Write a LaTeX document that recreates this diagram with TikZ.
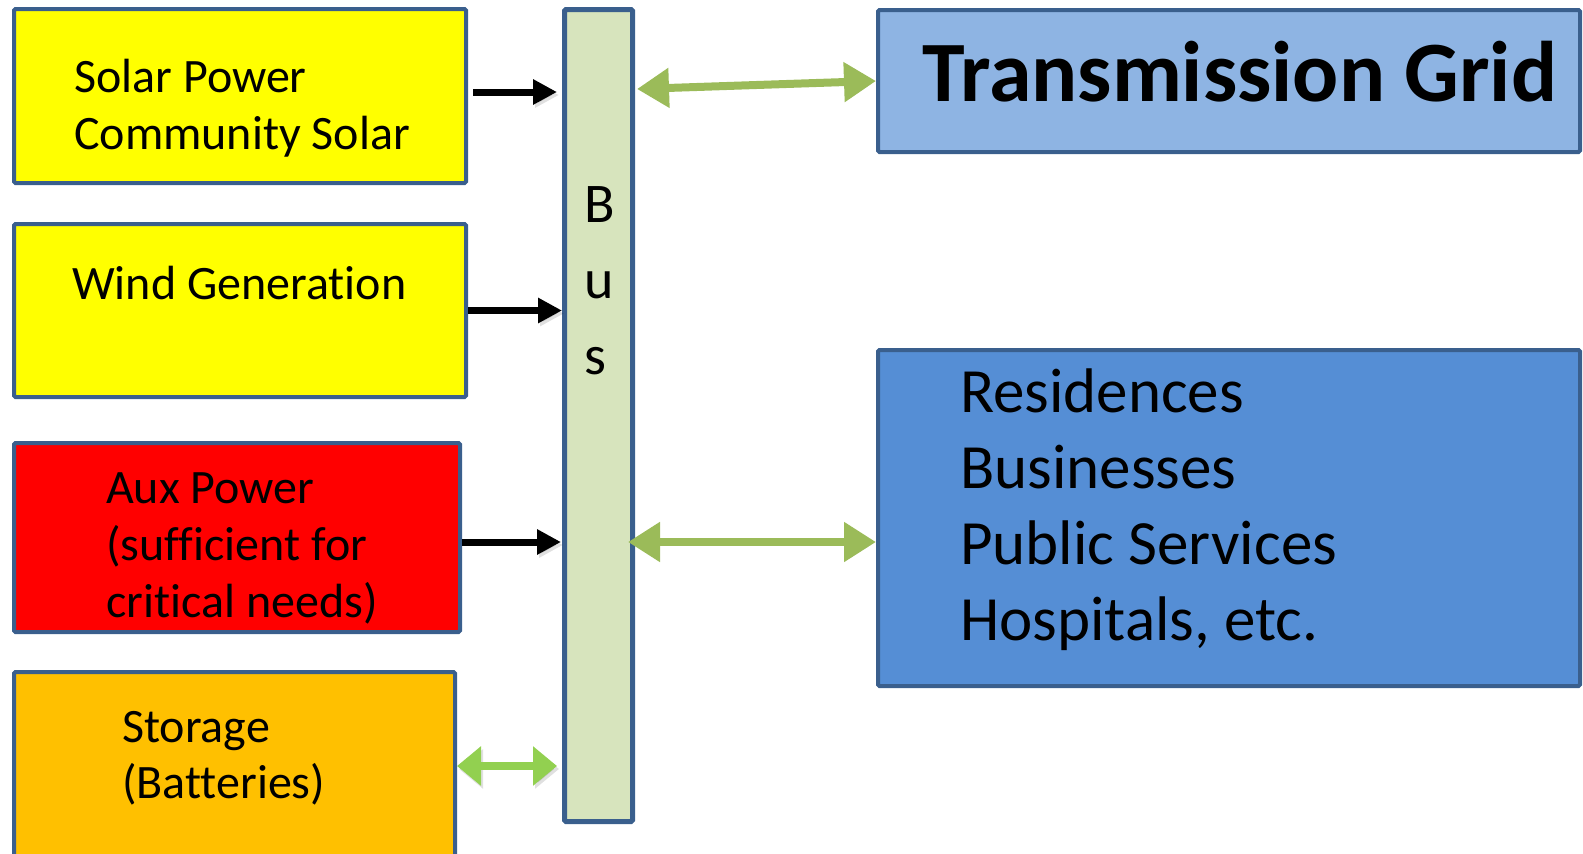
\documentclass[tikz,border=0pt]{standalone}
\usepackage{fontspec}
\setmainfont{Carlito}[Ligatures={NoCommon}]
\usetikzlibrary{arrows.meta}

\definecolor{edgeblue}{HTML}{3A5F8D}
\definecolor{sunyellow}{HTML}{FFFF00}
\definecolor{auxred}{HTML}{FF0000}
\definecolor{storeorange}{HTML}{FFC000}
\definecolor{busgreen}{HTML}{D7E4BD}
\definecolor{gridblue}{HTML}{8EB4E3}
\definecolor{loadblue}{HTML}{558ED5}
\definecolor{linkgreen}{HTML}{9BBB59}
\definecolor{storegreen}{HTML}{92D050}

% stacked lines, first baseline is the box baseline
\newcommand\textlines[1]{\vtop{#1}}

\tikzset{
  block/.style={draw=edgeblue, line width=4pt, rounded corners=1.5pt,
    inner sep=0pt, anchor=north west},
  label/.style={anchor=base west, inner sep=0pt, text=black},
  soft shadow/.style={preaction={draw=black, opacity=0.12,
    transform canvas={shift={(2pt,-3pt)}}}},
  feed/.style={soft shadow, line width=7pt, black, -{Triangle[length=24pt,width=24pt]}},
  link/.style={soft shadow, line width=8pt, linkgreen,
    {Triangle[length=32pt,width=38pt]}-{Triangle[length=32pt,width=38pt]}},
  storelink/.style={soft shadow, line width=8pt, storegreen,
    {Triangle[length=24pt,width=38pt]}-{Triangle[length=24pt,width=38pt]}},
}

\begin{document}
\begin{tikzpicture}[x=1pt,y=-1pt]
\useasboundingbox (0,0) rectangle (1583,854);

% sources on the left
\node[block, fill=sunyellow, minimum width=452pt, minimum height=174pt] (solar) at (12,7) {};
\node[block, fill=sunyellow, minimum width=452pt, minimum height=173pt] (wind) at (12,222) {};
\node[block, fill=auxred, minimum width=446pt, minimum height=189pt] (aux) at (12,441) {};
\node[block, fill=storeorange, minimum width=441pt, minimum height=216pt] (storage) at (12,670) {};

% the bus bar
\node[block, fill=busgreen, line width=5pt, minimum width=68pt, minimum height=812pt] (bus) at (562,7) {};

% grid and loads on the right
\node[block, fill=gridblue, minimum width=702pt, minimum height=142pt] (grid) at (876,8) {};
\node[block, fill=loadblue, minimum width=702pt, minimum height=336pt] (loads) at (876,348) {};

% texts
\node[label] (solartext) at (74,92) {\fontsize{48}{57}\selectfont
  \textlines{\hbox{Solar Power}\hbox{Community Solar}}};
\node[label] (windtext) at (72,299) {\fontsize{48}{57}\selectfont Wind Generation};
\node[label] (auxtext) at (106,503) {\fontsize{48}{57}\selectfont
  \textlines{\hbox{Aux Power}\hbox{(sufficient for}\hbox{critical needs)}}};
\node[label] (storagetext) at (122,742) {\fontsize{48}{56}\selectfont
  \textlines{\hbox{Storage}\hbox{(Batteries)}}};
\node[label] (bustext) at (584,222) {\fontsize{56}{76}\selectfont
  \textlines{\hbox{B}\hbox{u}\hbox{s}}};
\node[label] (gridtext) at (922,101) {\fontsize{86}{100}\selectfont\bfseries Transmission Grid};
\node[label] (loadstext) at (960,412) {\fontsize{63}{76}\selectfont
  \textlines{\hbox{Residences}\hbox{Businesses}\hbox{Public Services}\hbox{Hospitals, etc.}}};

% feeds into the bus
\draw[feed] ([xshift=5pt,yshift=4pt]solar.east) -- ([xshift=-5pt,yshift=4pt]solar.east -| bus.west);
\draw[feed] (wind.east) -- (wind.east -| bus.west);
\draw[feed] ([yshift=-4.5pt]aux.east) -- ([xshift=-1pt,yshift=-4.5pt]aux.east -| bus.west);
\draw[storelink] ([yshift=14pt]storage.east) -- ([xshift=-5pt,yshift=14pt]storage.east -| bus.west);

% two-way links from the bus
\draw[link] ([xshift=2pt,yshift=-8pt]grid.west -| bus.east) -- (grid.west);
\draw[link] ([xshift=-7pt,yshift=-24pt]loads.west -| bus.east) -- ([yshift=-24pt]loads.west);
\end{tikzpicture}
\end{document}
